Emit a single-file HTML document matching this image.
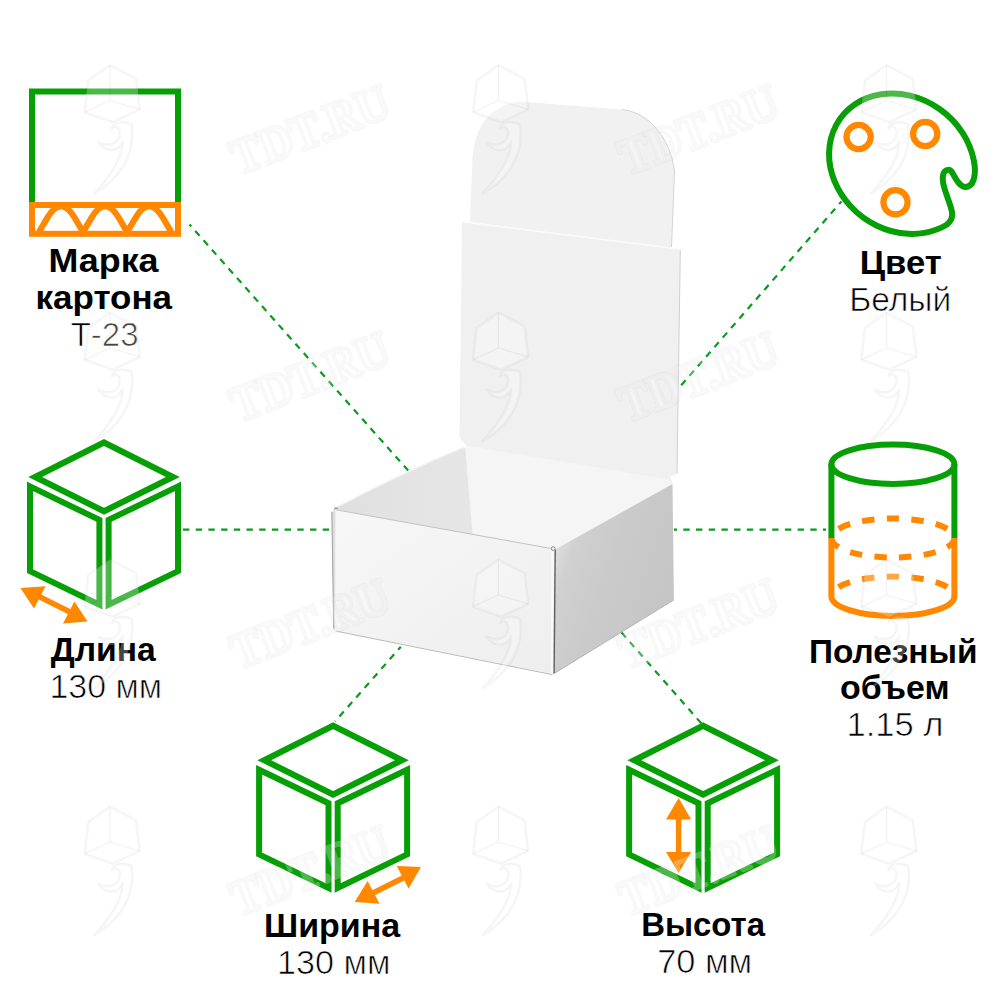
<!DOCTYPE html>
<html lang="ru">
<head>
<meta charset="utf-8">
<title>Коробка — характеристики</title>
<style>
  html, body { margin: 0; padding: 0; background: #ffffff; }
  body { width: 1000px; height: 1000px; overflow: hidden; font-family: "Liberation Sans", sans-serif; }
  svg { display: block; }
  text { font-family: "Liberation Sans", sans-serif; fill: #000; text-anchor: middle; }
  .b { font-weight: bold; font-size: 32.6px; }
  .r { font-weight: normal; font-size: 32.4px; fill: #000; stroke: #fff; stroke-width: 0.7px; paint-order: fill stroke; }
  .g { stroke: #06a006; fill: none; }
  .o { stroke: #ff8800; fill: none; }
  .dash { stroke: #0a9a1e; stroke-width: 2.2; fill: none; stroke-dasharray: 6.5 5.9; }
</style>
</head>
<body>
<svg width="1000" height="1000" viewBox="0 0 1000 1000">
  <defs>
    <linearGradient id="gFront" x1="0" y1="0" x2="1" y2="1">
      <stop offset="0" stop-color="#f7f7f7"/>
      <stop offset="1" stop-color="#eeeeee"/>
    </linearGradient>
    <linearGradient id="gRight" gradientUnits="userSpaceOnUse" x1="556" y1="560" x2="674" y2="600">
      <stop offset="0" stop-color="#dadada"/>
      <stop offset="0.1" stop-color="#d0d0d0"/>
      <stop offset="0.45" stop-color="#cacaca"/>
      <stop offset="1" stop-color="#c5c5c5"/>
    </linearGradient>
    <linearGradient id="gInL" x1="0" y1="0" x2="1" y2="0">
      <stop offset="0" stop-color="#dedede"/>
      <stop offset="0.3" stop-color="#e2e2e2"/>
      <stop offset="1" stop-color="#e6e6e6"/>
    </linearGradient>
    <clipPath id="cpWave"><rect x="29" y="202" width="152" height="34.8"/></clipPath>
    <g id="wmCube" stroke-linejoin="round">
      <g fill="none" stroke="#000000" stroke-opacity="0.045" stroke-width="2.6">
        <path d="M0,-35.2 L26.1,-21.7 L29.7,8.9 L2.7,21.5 L-25.2,11.7 L-21.6,-19.9 Z"/>
        <path d="M21.5,24 C26,58 6,80 -15.5,93 C2,74 13,56 12.5,41 C8,52 -4,52 -11.5,42 C-2,47 9,44 10,33 C10.5,27 5,24 2,28 C3,22 13,20 21.5,24 Z"/>
      </g>
      <g fill="#ffffff" stroke="#ffffff" stroke-width="1" opacity="0.27">
        <path d="M0,-35.2 L26.1,-21.7 L29.7,8.9 L2.7,21.5 L-25.2,11.7 L-21.6,-19.9 Z"/>
        <path d="M21.5,24 C26,58 6,80 -15.5,93 C2,74 13,56 12.5,41 C8,52 -4,52 -11.5,42 C-2,47 9,44 10,33 C10.5,27 5,24 2,28 C3,22 13,20 21.5,24 Z"/>
      </g>
      <path d="M0,-35.2 L0,0 L29.7,8.9 M0,0 L-25.2,11.7" fill="none" stroke="#000000" stroke-opacity="0.05" stroke-width="1.3"/>
    </g>
    <g id="wmText">
      <g transform="rotate(-21.3)">
        <text x="0" y="14" textLength="166" lengthAdjust="spacingAndGlyphs" style="font-family:'Liberation Serif',serif;font-weight:bold;font-size:50px;fill:none;stroke:#000000;stroke-opacity:0.045;stroke-width:4.6px;stroke-linejoin:round;">TDT.RU</text>
        <text x="0" y="14" textLength="166" lengthAdjust="spacingAndGlyphs" style="font-family:'Liberation Serif',serif;font-weight:bold;font-size:50px;fill:#ffffff;stroke:#ffffff;stroke-width:2.6px;stroke-linejoin:round;opacity:0.27;">TDT.RU</text>
      </g>
    </g>
    <g id="cube">
      <polygon points="104,442.4 172.8,476.9 104,511.2 35.2,476.9" stroke-width="6.2" stroke-linejoin="miter"/>
      <polygon points="30,486.4 99.4,519.9 99.4,604.6 30,571.1" stroke-width="6" stroke-linejoin="miter"/>
      <polygon points="178,486.4 108.6,519.9 108.6,604.6 178,571.1" stroke-width="6" stroke-linejoin="miter"/>
    </g>
  </defs>

  <!-- ============ BOX (photo approximation) ============ -->
  <g id="box">
    <!-- lid top flap -->
    <path d="M469.9,222 L472.2,166 C472.6,135 484,106 520,101.5 L622,109.5 C648,112 671,138 674.5,172 L671.5,248 Z" fill="#f1f1f1"/>
    <path d="M622,109.5 C648,112 671,138 674.5,172 L671.5,247" fill="none" stroke="#d4d4d4" stroke-width="1"/>
    <!-- lid main panel + back wall -->
    <path d="M462,221.5 L680.5,249 L677,474 L670,476.5 L672.5,484 L555,549 L472.5,534.5 L466,445.5 L459.5,437 Z" fill="#f0f0f0"/>
    <path d="M680.3,250 L677,473.5" fill="none" stroke="#d0d0d0" stroke-width="1"/>
    <path d="M462,221.8 L680.5,249.3" fill="none" stroke="#fbfbfb" stroke-width="1.4"/>
    <!-- back wall (slightly lighter) -->
    <path d="M466,445.5 L669,479.5 L672.5,484 L555,549 L472.5,534.5 Z" fill="#f5f5f5"/>
    <!-- inner left wall -->
    <path d="M336,507.5 Q402,473.5 463.5,447.5 Q465.4,447 465.6,449 L472.5,534.5 L340,511 Z" fill="url(#gInL)"/>
    <path d="M337,507 Q402,473 463.5,447.3" fill="none" stroke="#f2f2f2" stroke-width="1.4"/>
    <!-- front face -->
    <path d="M335.5,509.5 L554.5,549 L553.6,674 L334.8,630.5 Z" fill="url(#gFront)"/>
    <path d="M552.6,549.5 L551.8,673" stroke="#f9f9f9" stroke-width="2.2" fill="none"/>
    <!-- left edge band -->
    <path d="M331.5,512 L335.5,509.5 L335,630.5 L333.5,629 Z" fill="#dedede"/>
    <path d="M331.9,512 L333.7,628.5" stroke="#a0a0a0" stroke-width="1" fill="none"/>
    <!-- right face -->
    <path d="M555.4,549.2 L672.5,484 L673.9,599.7 L554.4,673.4 Z" fill="url(#gRight)"/>
    <path d="M554.6,673.2 L673.9,599.9" stroke="#b4b4b4" stroke-width="1" fill="none"/>
    <!-- edges -->
    <path d="M555.2,549.5 L554.1,673.5" stroke="#5e5e5e" stroke-width="1.4" fill="none"/>
    <path d="M336,509.8 L554,549" stroke="#c2c2c2" stroke-width="1" fill="none"/>
    <path d="M335.5,631 L552.7,674.7" stroke="#b8b8b8" stroke-width="1" fill="none"/>
    <circle cx="553.2" cy="548.6" r="1.9" fill="#f4f4f4" stroke="#8a8a8a" stroke-width="1"/>
    <path d="M334.3,509.6 Q336,506.4 337.8,509.2" fill="none" stroke="#8a8a8a" stroke-width="1.1"/>
  </g>

  <!-- ============ DASHED CONNECTORS ============ -->
  <path class="dash" d="M189.5,224.5 L408.2,470.6" style="stroke-dasharray:6.6 5.97" stroke-dashoffset="4.0"/>
  <path class="dash" d="M183,529.7 L329.3,529.7" style="stroke-dasharray:6.4 6.3"/>
  <path class="dash" d="M826,529.7 L674,529.7" style="stroke-dasharray:6.4 6.3" stroke-dashoffset="3.4"/>
  <path class="dash" d="M841.5,201.4 L681.15,385.35" style="stroke-dasharray:6.6 6.05" stroke-dashoffset="3.0"/>
  <path class="dash" d="M335,721.5 L400.8,646.8" style="stroke-dasharray:6.6 6.1" stroke-dashoffset="6.0"/>
  <path class="dash" d="M621.5,632.5 L701.5,723.6" style="stroke-dasharray:6.6 6.1"/>

  <!-- ============ ICON 1: cardboard grade ============ -->
  <g>
    <path class="g" d="M32,202 L32,91.5 L178,91.5 L178,202" stroke-width="6" stroke-linejoin="miter"/>
    <rect class="o" x="32" y="205" width="146" height="28.8" stroke-width="6"/>
    <g clip-path="url(#cpWave)">
      <path class="o" stroke-width="6.2" stroke-linejoin="miter" stroke-miterlimit="10" d="M38.95,232 L47.33,217.8 Q61,194.6 74.67,217.8 L83.05,232 L91.43,217.8 Q105.1,194.6 118.77,217.8 L127.15,232 L135.53,217.8 Q149.2,194.6 162.87,217.8 L171.25,232"/>
    </g>
  </g>

  <!-- ============ ICON 2: length cube ============ -->
  <use href="#cube" class="g"/>
  <g fill="#ff8800" stroke="none">
    <polygon points="20.4,588 45.6,586.2 34,608.4"/>
    <polygon points="87.6,621.6 63,623.4 74.4,601.6"/>
    <path d="M38,596 L71,612.5" stroke="#ff8800" stroke-width="5.5"/>
  </g>

  <!-- ============ ICON 3: width cube ============ -->
  <use href="#cube" class="g" transform="translate(229.1,283.3)"/>
  <g fill="#ff8800" stroke="none">
    <polygon points="421,867 396.7,865.9 408.6,888.5"/>
    <polygon points="354.6,902 367.6,881 379.6,903.7"/>
    <path d="M371,894 L405.5,876.8" stroke="#ff8800" stroke-width="5.5"/>
  </g>

  <!-- ============ ICON 4: height cube ============ -->
  <use href="#cube" class="g" transform="translate(599.1,283.3)"/>
  <g fill="#ff8800" stroke="none">
    <polygon points="678.6,798 666,819.6 691.2,819.6"/>
    <polygon points="678.6,873 666,852 691.2,852"/>
    <path d="M678.6,817 L678.6,854" stroke="#ff8800" stroke-width="5.4"/>
  </g>

  <!-- ============ ICON 5: palette ============ -->
  <g>
    <path class="g" stroke-width="6" stroke-linejoin="round" d="M973.7,159.9 C974.8,165.5 975.3,170 974.7,174.4 C974.3,178 973.5,181 972,183.4 C970,186 967.5,187.3 964.8,187 C961.5,186.5 959.3,184 957.6,181.6 C955.5,178.6 954,175.5 952.2,172.6 C951,170.7 949.5,169.6 947.7,169.9 C945.5,170.3 943.8,172 943.2,174.4 C942.2,178.5 943,183 944.1,187 C945.6,192.5 947.8,198 949.5,203.2 C950.7,207 952,210.5 952.2,214 C952.4,217.5 951,220.5 948.6,223 C945.4,226.3 940.6,228.1 935.9,229.8 A76.55,66.35 37.2 1 1 973.7,159.9 Z"/>
    <circle class="o" cx="858.6" cy="137" r="12.1" stroke-width="6.2"/>
    <circle class="o" cx="925.2" cy="133.9" r="12.1" stroke-width="6.2"/>
    <circle class="o" cx="895.5" cy="202.3" r="12.1" stroke-width="6.2"/>
  </g>

  <!-- ============ ICON 6: cylinder (volume) ============ -->
  <g>
    <ellipse class="o" cx="892.9" cy="538" rx="61.5" ry="19.5" stroke-width="6" pathLength="22" stroke-dasharray="1 1" stroke-dashoffset="6"/>
    <ellipse class="o" cx="892.9" cy="596.3" rx="61.5" ry="19.7" stroke-width="6" pathLength="22" stroke-dasharray="1 1" stroke-dashoffset="6"/>
    <path d="M825,596.3 L961,596.3 L961,625 L825,625 Z" fill="#fff" stroke="none"/>
    <path class="o" stroke-width="6" d="M831.4,538 L831.4,596.3 A61.5,19.7 0 0 0 954.4,596.3 L954.4,538"/>
    <path class="g" stroke-width="6" d="M831.4,538 L831.4,464.3 M954.4,538 L954.4,464.3"/>
    <ellipse class="g" cx="892.9" cy="464.3" rx="61.5" ry="19.7" stroke-width="6"/>
  </g>

  <!-- ============ LABELS ============ -->
  <text class="b" transform="translate(103.5,272) scale(1.100,1)">Марка</text>
  <text class="b" transform="translate(103.8,308.8) scale(1.073,1)">картона</text>
  <text class="r" transform="translate(104.6,345.6) scale(1.02,1)">Т-23</text>
  <text class="b" transform="translate(103.2,660.5) scale(1.032,1)">Длина</text>
  <text class="r" transform="translate(105.7,697.8) scale(1.046,1)">130 мм</text>
  <text class="b" transform="translate(332.1,936.5) scale(1.043,1)">Ширина</text>
  <text class="r" transform="translate(333.8,973.6) scale(1.054,1)">130 мм</text>
  <text class="b" transform="translate(703.1,936.3) scale(1.010,1)">Высота</text>
  <text class="r" transform="translate(704.7,973.2) scale(1.062,1)">70 мм</text>
  <text class="b" transform="translate(900.7,273.7) scale(1.063,1)">Цвет</text>
  <text class="r" transform="translate(900.2,310.5) scale(1.037,1)">Белый</text>
  <text class="b" transform="translate(893.2,662.7) scale(1.024,1)">Полезный</text>
  <text class="b" transform="translate(894.8,698.8) scale(1.041,1)">объем</text>
  <text class="r" transform="translate(895.0,736.4) scale(1.067,1)">1.15 л</text>
  <!-- ============ WATERMARKS (very faint) ============ -->
  <g id="watermarks">
    <use href="#wmCube" x="110" y="100.5"/>
    <use href="#wmCube" x="498.4" y="100.5"/>
    <use href="#wmCube" x="886.6" y="100.5"/>
    <use href="#wmCube" x="110" y="348"/>
    <use href="#wmCube" x="498.4" y="348"/>
    <use href="#wmCube" x="886.6" y="348"/>
    <use href="#wmCube" x="110" y="595"/>
    <use href="#wmCube" x="498.4" y="595"/>
    <use href="#wmCube" x="886.6" y="595"/>
    <use href="#wmCube" x="110" y="842"/>
    <use href="#wmCube" x="498.4" y="842"/>
    <use href="#wmCube" x="886.6" y="842"/>
    <use href="#wmText" x="-77" y="132"/>
    <use href="#wmText" x="311" y="132"/>
    <use href="#wmText" x="699.5" y="132"/>
    <use href="#wmText" x="1087.7" y="132"/>
    <use href="#wmText" x="-77" y="379"/>
    <use href="#wmText" x="311" y="379"/>
    <use href="#wmText" x="699.5" y="379"/>
    <use href="#wmText" x="1087.7" y="379"/>
    <use href="#wmText" x="-77" y="626"/>
    <use href="#wmText" x="311" y="626"/>
    <use href="#wmText" x="699.5" y="626"/>
    <use href="#wmText" x="1087.7" y="626"/>
    <use href="#wmText" x="-77" y="873"/>
    <use href="#wmText" x="311" y="873"/>
    <use href="#wmText" x="699.5" y="873"/>
    <use href="#wmText" x="1087.7" y="873"/>
  </g>
</svg>
</body>
</html>
